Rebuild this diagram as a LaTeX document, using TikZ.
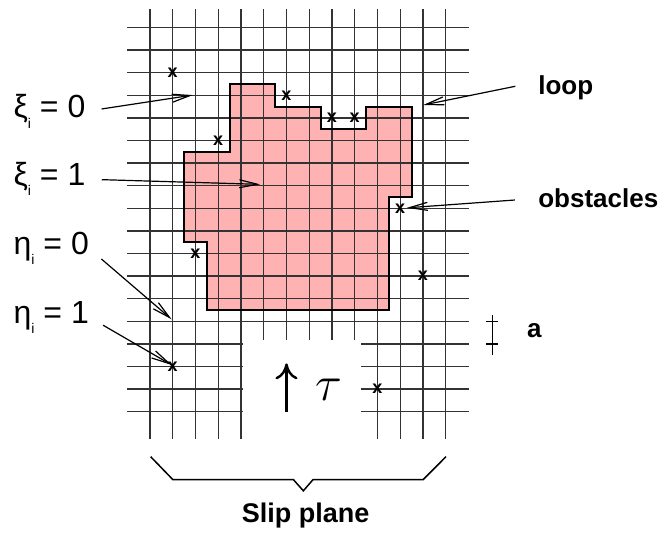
\documentclass[tikz,border=0pt]{standalone}
\usepackage{fontspec}
\setmainfont{Liberation Sans}
\usetikzlibrary{arrows.meta}
\definecolor{looppink}{RGB}{255,178,178}
\newcommand{\site}[1]{\raisebox{-0.6ex}{\fontsize{7}{8}\selectfont #1}}

\begin{document}
\begin{tikzpicture}[x=11.375pt, y=11.3pt,
    gridline/.style={black!80, line width=0.7pt},
    obst/.style={inner sep=0.6pt, font=\bfseries\fontsize{9}{9}\selectfont},
    varlabel/.style={anchor=base west, inner sep=0pt, font=\fontsize{16}{18}\selectfont},
    tag/.style={anchor=base west, inner sep=0pt, font=\bfseries\fontsize{13}{15}\selectfont},
    pointer/.style={-{Straight Barb[length=9pt, width=4pt]}, line width=0.6pt},
    tauarrow/.style={-{Computer Modern Rightarrow[length=8pt, width=11pt]}, line width=1.2pt}
]
\useasboundingbox (-6.593,-5.323) rectangle (22.637,18.217);

% loop area
\fill[looppink] (3.5,14.5) -- (5.5,14.5) -- (5.5,13.5) -- (7.5,13.5) -- (7.5,12.5) -- (9.5,12.5)
    -- (9.5,13.5) -- (11.5,13.5) -- (11.5,9.5) -- (10.5,9.5) -- (10.5,4.5) -- (2.5,4.5)
    -- (2.5,7.5) -- (1.5,7.5) -- (1.5,11.5) -- (3.5,11.5) -- cycle;

% lattice
\foreach \i in {0,...,13}
  \draw[gridline] (\i,-1.2) -- (\i,17.8);
\foreach \j in {0,...,17}
  \draw[gridline] (-1,\j) -- (14,\j);

\draw[draw=black, line width=1pt] (3.5,14.5) -- (5.5,14.5) -- (5.5,13.5) -- (7.5,13.5) -- (7.5,12.5) -- (9.5,12.5)
    -- (9.5,13.5) -- (11.5,13.5) -- (11.5,9.5) -- (10.5,9.5) -- (10.5,4.5) -- (2.5,4.5)
    -- (2.5,7.5) -- (1.5,7.5) -- (1.5,11.5) -- (3.5,11.5) -- cycle;

% stress
\fill[white] (4.1,-1.5) rectangle (9.27,3.17);
\coordinate (taufoot) at (6,0);
\coordinate (tautip) at (6,2.14);
\draw[tauarrow] (taufoot) -- (tautip);
\node (tau) at (7.84,0.96) {\fontsize{27}{30}\selectfont$\tau$};

% obstacles
\foreach \p [count=\k] in {(1,15),(6,14),(8,13),(9,13),(3,12),(11,9),(2,7),(12,6),(1,2),(10,1)}
  \node[obst] (ob\k) at \p {x};

% labels
\node[varlabel] (xi0) at (-6.01,13) {ξ\site{i} = 0};
\node[varlabel] (xi1) at (-6.01,10) {ξ\site{i} = 1};
\node[varlabel] (eta0) at (-6.01,6.95) {η\site{i} = 0};
\node[varlabel] (eta1) at (-6.01,3.92) {η\site{i} = 1};

\coordinate (xi0tip) at (1.88,14.01);
\coordinate (xi1tip) at (4.84,10.06);
\coordinate (eta0tip) at (0.95,4.09);
\coordinate (eta1tip) at (0.95,2.07);

\draw[pointer, shorten <=8pt] (xi0.east) -- (xi0tip);
\draw[pointer, shorten <=8pt] (xi1.east) -- (xi1tip);
\draw[pointer, shorten <=8pt] (eta0.east) -- (eta0tip);
\draw[pointer, shorten <=8pt] (eta1.east) -- (eta1tip);

\node[tag] (loop) at (17.05,14.04) {loop};
\node[tag] (obstacles) at (17.05,9.03) {obstacles};
\coordinate (looptip) at (12.01,13.57);
\draw[pointer, shorten <=11.5pt] ([yshift=3pt]loop.west) -- (looptip);
\draw[pointer, shorten <=11.5pt] (obstacles.west) -- (ob6);

% lattice constant
\draw[line width=0.6pt] (15.05,2.5) -- (15.05,4.27);
\draw[line width=0.6pt] (14.79,3) -- (15.31,3);
\draw[line width=0.6pt] (14.79,4) -- (15.31,4);
\node[tag] (a) at (16.56,3.27) {a};

% slip plane
\draw[line width=0.75pt] (0.03,-1.99) -- (1.0,-3.0) -- (6.3,-3.0) -- (6.74,-3.5) -- (7.17,-3.0)
    -- (12.01,-3.0) -- (13.01,-1.99);
\node[tag, anchor=base, font=\bfseries\fontsize{13.5}{15}\selectfont] (slip) at (6.84,-4.91) {Slip plane};
\end{tikzpicture}
\end{document}
